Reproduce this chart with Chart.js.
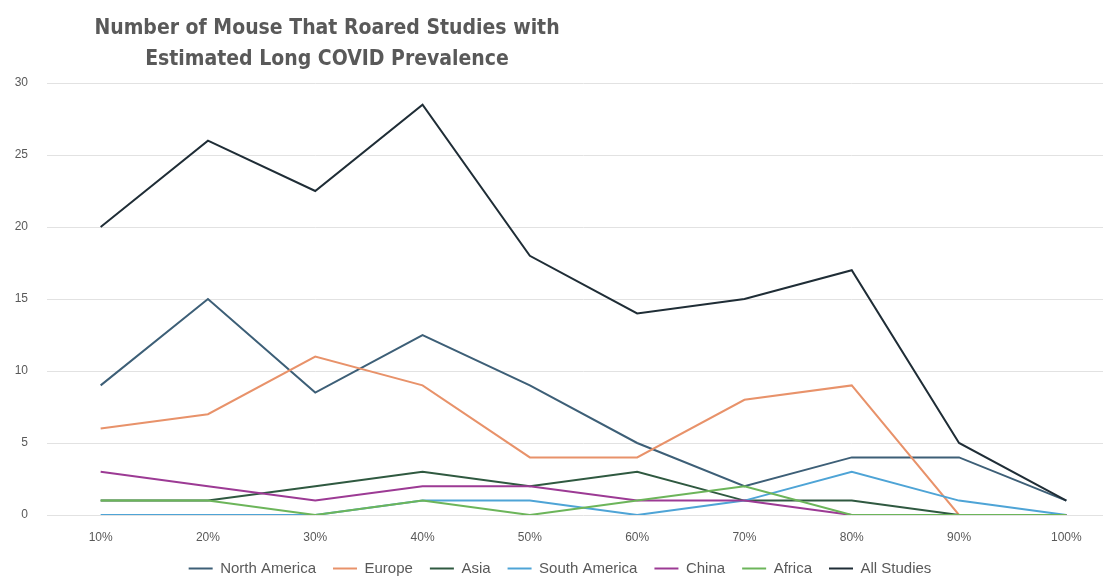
<!DOCTYPE html>
<html>
<head>
<meta charset="utf-8">
<script src="https://cdn.jsdelivr.net/npm/chart.js@4/dist/chart.umd.min.js"></script>
<style>
  html, body { margin: 0; padding: 0; background: #fff; overflow: hidden; }
  #wrap { position: relative; width: 1103px; height: 576px; overflow: hidden; }
  #title {
    position: absolute; left: 77px; top: 12px; width: 500px;
    text-align: center; color: #595959;
    font: bold 21px/31px "DejaVu Sans Condensed", "Liberation Sans Narrow", sans-serif;
  }
  #chartBox { position: absolute; left: 0; top: 0; width: 1165px; height: 586px; }
</style>
</head>
<body>
<div id="wrap">
  <div id="chartBox"><canvas id="studyChart"></canvas></div>
  <div id="title">Number of Mouse That Roared Studies with<br>Estimated Long COVID Prevalence</div>
</div>
<script>
// prevalence buckets
const prevalence = ['10%', '20%', '30%', '40%', '50%', '60%', '70%', '80%', '90%', '100%'];

// number of studies per region in each bucket
const northAmerica = [9, 15, 8.5, 12.5, 9, 5, 2, 4, 4, 1];
const europe       = [6, 7, 11, 9, 4, 4, 8, 9, 0, 0];
const asia         = [1, 1, 2, 3, 2, 3, 1, 1, 0, 0];
const southAmerica = [0, 0, 0, 1, 1, 0, 1, 3, 1, 0];
const china        = [3, 2, 1, 2, 2, 1, 1, 0, 0, 0];
const africa       = [1, 1, 0, 1, 0, 1, 2, 0, 0, 0];
const allStudies   = [20, 26, 22.5, 28.5, 18, 14, 15, 17, 5, 1];

const yTicks = [0, 5, 10, 15, 20, 25, 30];

const seriesNames  = ['North America', 'Europe', 'Asia', 'South America', 'China', 'Africa', 'All Studies'];
const seriesData   = [northAmerica, europe, asia, southAmerica, china, africa, allStudies];
const seriesColors = ['#3d5f77', '#e8926a', '#2f5940', '#4ea4d6', '#9c3a94', '#6cb55a', '#1f2d36'];

// later series paint over earlier ones
const datasets = seriesNames.map((name, i) => ({
    label: name,
    data: seriesData[i],
    borderColor: seriesColors[i],
    backgroundColor: seriesColors[i],
    borderWidth: 2,
    pointRadius: 0,
    pointStyle: 'line',
    tension: 0,
    order: seriesNames.length - i
}));

const ctx = document.getElementById('studyChart').getContext('2d');
const studyChart = new Chart(ctx, {
    type: 'line',
    data: { labels: prevalence, datasets: datasets },
    options: {
        responsive: true,
        maintainAspectRatio: false,
        animation: false,
        layout: { padding: { top: 83, right: 45, left: 0, bottom: 0 } },
        plugins: {
            title: { display: false },
            tooltip: { enabled: false },
            legend: {
                position: 'bottom',
                labels: {
                    usePointStyle: true,
                    pointStyleWidth: 24,
                    boxHeight: 14,
                    padding: 17,
                    color: '#595959',
                    font: { family: 'Liberation Sans', size: 15 },
                    sort: (a, b) => a.datasetIndex - b.datasetIndex
                }
            }
        },
        scales: {
            x: {
                offset: true,
                afterFit: (scale) => { scale.height = 29; },
                grid: { display: false, drawTicks: false },
                border: { display: false },
                ticks: { color: '#595959', font: { family: 'Liberation Sans', size: 12 }, padding: 15, maxRotation: 0 }
            },
            y: {
                min: 0,
                max: 30,
                afterBuildTicks: (scale) => { scale.ticks = yTicks.map(v => ({ value: v })); },
                afterFit: (scale) => { scale.width = 47; },
                grid: { color: '#e2e2e2', lineWidth: 1, drawTicks: false },
                border: { display: false },
                ticks: { color: '#595959', font: { family: 'Liberation Sans', size: 12 }, padding: 19 }
            }
        }
    }
});
</script>
</body>
</html>
